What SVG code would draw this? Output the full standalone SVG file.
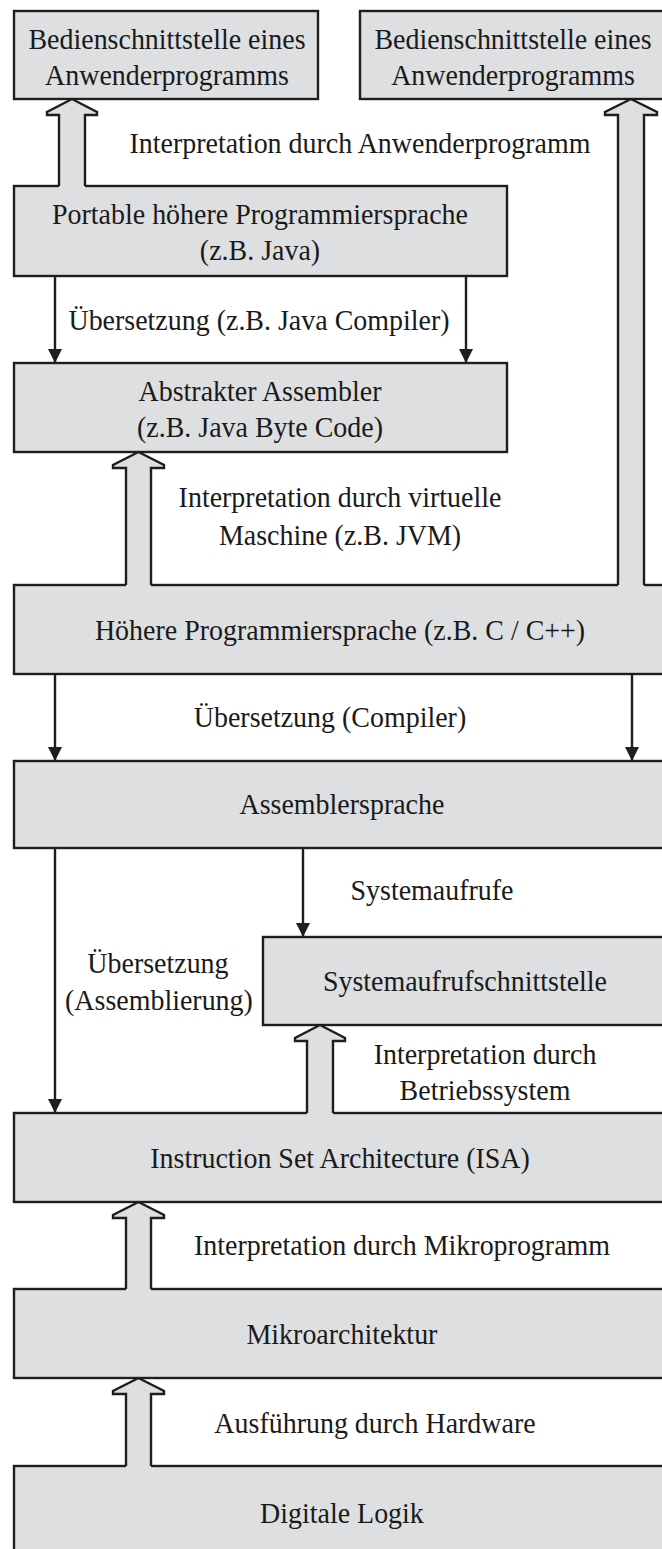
<svg xmlns="http://www.w3.org/2000/svg" width="662" height="1549" viewBox="0 0 662 1549">
  <style>
    .box { fill: #dedfe1; stroke: #1e1e1e; stroke-width: 2.4; }
    /* text is set slightly narrow: tall serif glyphs, x positions are divided by 0.92 */
    .lbl { font-family: "Liberation Serif", "Times New Roman", serif; font-size: 30.4px; fill: #1a1a1a; text-anchor: middle; }
    .line { fill: none; stroke: #1e1e1e; stroke-width: 2.4; }
    .hollow-fill { fill: #dedfe1; stroke: none; }
    .hollow-edge { fill: none; stroke: #1e1e1e; stroke-width: 2.4; stroke-linejoin: miter; }
  </style>
  <defs>
    <marker id="head" viewBox="0 0 14 14" refX="14" refY="7" markerWidth="14" markerHeight="14" markerUnits="userSpaceOnUse" orient="auto">
      <path d="M0,0 L14,7 L0,14 z" fill="#1e1e1e"/>
    </marker>
  </defs>
  <rect width="662" height="1549" fill="#ffffff"/>

  <!-- layers -->
  <g id="ui-left">
    <rect class="box" x="14" y="11" width="304" height="88"/>
    <text class="lbl" transform="scale(0.92,1)" x="181.5" y="49">Bedienschnittstelle eines</text>
    <text class="lbl" transform="scale(0.92,1)" x="181.5" y="85">Anwenderprogramms</text>
  </g>
  <g id="ui-right">
    <rect class="box" x="360" y="11" width="320" height="88"/>
    <text class="lbl" transform="scale(0.92,1)" x="557.6" y="49">Bedienschnittstelle eines</text>
    <text class="lbl" transform="scale(0.92,1)" x="557.6" y="85">Anwenderprogramms</text>
  </g>
  <g id="portable-hll">
    <rect class="box" x="14" y="186" width="493" height="90"/>
    <text class="lbl" transform="scale(0.92,1)" x="282.6" y="224">Portable höhere Programmiersprache</text>
    <text class="lbl" transform="scale(0.92,1)" x="282.6" y="260">(z.B. Java)</text>
  </g>
  <g id="abstract-asm">
    <rect class="box" x="14" y="363" width="493" height="89"/>
    <text class="lbl" transform="scale(0.92,1)" x="282.6" y="401">Abstrakter Assembler</text>
    <text class="lbl" transform="scale(0.92,1)" x="282.6" y="437">(z.B. Java Byte Code)</text>
  </g>
  <g id="hll">
    <rect class="box" x="14" y="585" width="670" height="89"/>
    <text class="lbl" transform="scale(0.92,1)" x="369.6" y="640">Höhere Programmiersprache (z.B. C / C++)</text>
  </g>
  <g id="assembler">
    <rect class="box" x="14" y="761" width="670" height="87"/>
    <text class="lbl" transform="scale(0.92,1)" x="371.7" y="814">Assemblersprache</text>
  </g>
  <g id="syscall-if">
    <rect class="box" x="263" y="937" width="421" height="88"/>
    <text class="lbl" transform="scale(0.92,1)" x="505.4" y="991">Systemaufrufschnittstelle</text>
  </g>
  <g id="isa">
    <rect class="box" x="14" y="1113" width="670" height="89"/>
    <text class="lbl" transform="scale(0.92,1)" x="369.6" y="1168">Instruction Set Architecture (ISA)</text>
  </g>
  <g id="microarch">
    <rect class="box" x="14" y="1289" width="670" height="89"/>
    <text class="lbl" transform="scale(0.92,1)" x="371.7" y="1344">Mikroarchitektur</text>
  </g>
  <g id="digital-logic">
    <rect class="box" x="14" y="1466" width="670" height="100"/>
    <text class="lbl" transform="scale(0.92,1)" x="371.7" y="1523">Digitale Logik</text>
  </g>

  <!-- transitions between layers -->
  <g id="connectors">
    <!-- hollow arrows (interpretation / execution) -->
    <path class="hollow-fill" d="M59,188 L59,115 L47,115 L47,112 L72,99 L97,112 L97,115 L85,115 L85,188 Z"/>
    <path class="hollow-edge" d="M59,186 L59,115 L47,115 L47,112 L72,99 L97,112 L97,115 L85,115 L85,186"/>

    <path class="hollow-fill" d="M618,587 L618,115 L605,115 L605,112 L631,99 L657,112 L657,115 L644,115 L644,587 Z"/>
    <path class="hollow-edge" d="M618,585 L618,115 L605,115 L605,112 L631,99 L657,112 L657,115 L644,115 L644,585"/>

    <path class="hollow-fill" d="M126,587 L126,468 L113,468 L113,465 L138.5,452 L164,465 L164,468 L151,468 L151,587 Z"/>
    <path class="hollow-edge" d="M126,585 L126,468 L113,468 L113,465 L138.5,452 L164,465 L164,468 L151,468 L151,585"/>

    <path class="hollow-fill" d="M307,1115 L307,1041 L295,1041 L295,1038 L320,1025 L345,1038 L345,1041 L333,1041 L333,1115 Z"/>
    <path class="hollow-edge" d="M307,1113 L307,1041 L295,1041 L295,1038 L320,1025 L345,1038 L345,1041 L333,1041 L333,1113"/>

    <path class="hollow-fill" d="M126,1291 L126,1218 L113,1218 L113,1215 L138.5,1202 L164,1215 L164,1218 L151,1218 L151,1291 Z"/>
    <path class="hollow-edge" d="M126,1289 L126,1218 L113,1218 L113,1215 L138.5,1202 L164,1215 L164,1218 L151,1218 L151,1289"/>

    <path class="hollow-fill" d="M126,1468 L126,1394 L113,1394 L113,1391 L138.5,1378 L164,1391 L164,1394 L151,1394 L151,1468 Z"/>
    <path class="hollow-edge" d="M126,1466 L126,1394 L113,1394 L113,1391 L138.5,1378 L164,1391 L164,1394 L151,1394 L151,1466"/>

    <!-- solid arrows (translation / calls) -->
    <line class="line" x1="55" y1="276" x2="55" y2="363" marker-end="url(#head)"/>
    <line class="line" x1="466" y1="276" x2="466" y2="363" marker-end="url(#head)"/>
    <line class="line" x1="55" y1="674" x2="55" y2="761" marker-end="url(#head)"/>
    <line class="line" x1="632" y1="674" x2="632" y2="761" marker-end="url(#head)"/>
    <line class="line" x1="55" y1="848" x2="55" y2="1113" marker-end="url(#head)"/>
    <line class="line" x1="303" y1="848" x2="303" y2="937" marker-end="url(#head)"/>
  </g>

  <!-- transition labels -->
  <g id="labels">
    <text class="lbl" transform="scale(0.92,1)" x="391.3" y="153">Interpretation durch Anwenderprogramm</text>
    <text class="lbl" transform="scale(0.92,1)" x="281.5" y="330">Übersetzung (z.B. Java Compiler)</text>
    <text class="lbl" transform="scale(0.92,1)" x="369.6" y="507">Interpretation durch virtuelle</text>
    <text class="lbl" transform="scale(0.92,1)" x="369.6" y="545">Maschine (z.B. JVM)</text>
    <text class="lbl" transform="scale(0.92,1)" x="358.7" y="727">Übersetzung (Compiler)</text>
    <text class="lbl" transform="scale(0.92,1)" x="469.6" y="900">Systemaufrufe</text>
    <text class="lbl" transform="scale(0.92,1)" x="171.7" y="973">Übersetzung</text>
    <text class="lbl" transform="scale(0.92,1)" x="172.8" y="1010">(Assemblierung)</text>
    <text class="lbl" transform="scale(0.92,1)" x="527.2" y="1064">Interpretation durch</text>
    <text class="lbl" transform="scale(0.92,1)" x="527.2" y="1100">Betriebssystem</text>
    <text class="lbl" transform="scale(0.92,1)" x="437.0" y="1255">Interpretation durch Mikroprogramm</text>
    <text class="lbl" transform="scale(0.92,1)" x="407.6" y="1433">Ausführung durch Hardware</text>
  </g>
</svg>
